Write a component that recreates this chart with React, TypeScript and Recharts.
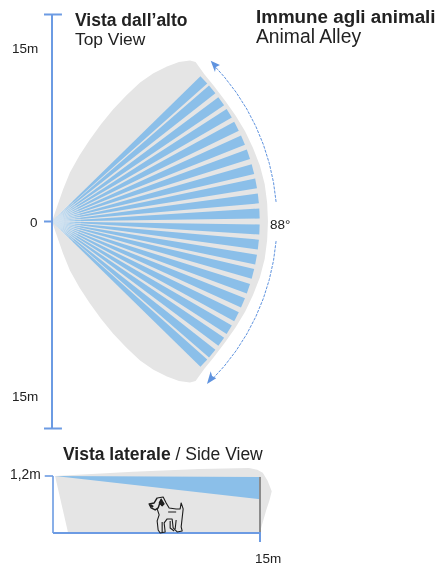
import React from "react";
import { ScatterChart, Scatter, XAxis, YAxis } from "recharts";

type Pt = { x: number; y: number };

// ---- Top view (metres from the sensor) ----
const beamAngles = [43, 39.5, 35.4, 31.4, 27.3, 23.1, 18.9, 14.6, 10.6, 6.4, 2.2, -2.2, -6.4, -10.6, -14.6, -18.9, -23.1, -27.3, -31.4, -35.4, -39.5, -43];
const beamRangeM = 15.05;
const beamHalfWidthDeg = 1.38;
const coneLeftEdge: Pt[] = [
  { x: 0, y: 0 }, { x: 0.22, y: 0.65 }, { x: 0.8, y: 2.32 }, { x: 1.3, y: 3.55 }, { x: 2.0, y: 4.8 }, { x: 2.75, y: 5.94 },
  { x: 3.55, y: 7.05 }, { x: 4.42, y: 8.12 }, { x: 5.4, y: 9.15 }, { x: 6.38, y: 10.07 }, { x: 7.35, y: 10.75 }, { x: 8.33, y: 11.23 }, { x: 9.2, y: 11.55 }, { x: 10.0, y: 11.67 },
];
const rimAngles = [48, 44, 40, 35, 30, 25, 20, 15, 10, 5, 0];
const rimRadii = [15.55, 15.35, 15.3, 15.3, 15.36, 15.45, 15.51, 15.6, 15.65, 15.65, 15.65];
const fadeAngles = [-46, -30, -15, 0, 15, 30, 46];
const fadeRadiiM = [0.9, 1.3, 1.7, 2.1];
const upperSweepAngles = [5, 10, 15, 20, 25, 30, 35, 40, 44];
const lowerSweepAngles = [-5, -10, -15, -20, -25, -30, -35, -40, -45];
const sweepRadiusM = 16.3;
const upperArrow: Pt[] = [{ x: 11.5, y: 11.65 }, { x: 11.81, y: 10.83 }, { x: 11.88, y: 11.2 }, { x: 12.17, y: 11.34 }];
const lowerArrow: Pt[] = [{ x: 11.23, y: -11.78 }, { x: 11.9, y: -11.35 }, { x: 11.6, y: -11.2 }, { x: 11.5, y: -10.85 }];
const topAxis: Pt[] = [{ x: 0, y: 15 }, { x: 0, y: -15 }];
const topTicksOuter: Pt[][] = [
  [{ x: -0.58, y: 15 }, { x: 0.72, y: 15 }],
  [{ x: -0.58, y: -15 }, { x: 0.72, y: -15 }],
  [{ x: -0.58, y: 0 }, { x: 0, y: 0 }],
];

// ---- Side view (x metres, y metres) ----
const sideCone: Pt[] = [
  { x: 0.15, y: 1.2 }, { x: 5.8, y: 1.29 }, { x: 10.6, y: 1.35 }, { x: 14.2, y: 1.37 }, { x: 14.8, y: 1.33 }, { x: 15.2, y: 1.27 }, { x: 15.55, y: 1.1 },
  { x: 15.85, y: 0.88 }, { x: 15.7, y: 0.7 }, { x: 15.45, y: 0.48 }, { x: 15.0, y: 0.02 }, { x: 1.08, y: 0.02 },
];
const sideBeam: Pt[] = [{ x: 0.15, y: 1.2 }, { x: 15, y: 1.18 }, { x: 15, y: 0.71 }];
const sideEdge: Pt[] = [{ x: 15, y: 1.18 }, { x: 15, y: 0 }];
const sideLeftAxis: Pt[] = [{ x: 0, y: 1.2 }, { x: 0, y: 0 }];
const sideBaseAxis: Pt[] = [{ x: 0, y: 0 }, { x: 15, y: 0 }, { x: 15, y: -0.19 }];
const sideTopTick: Pt[] = [{ x: -0.6, y: 1.2 }, { x: 0, y: 1.2 }];
const dogPosition: Pt[] = [{ x: 8.2, y: 0.38 }];

const polar = (deg: number, r: number): Pt => ({
  x: r * Math.cos((deg * Math.PI) / 180),
  y: r * Math.sin((deg * Math.PI) / 180),
});
const flip = (p: Pt): Pt => ({ x: p.x, y: -p.y });

const rim = rimAngles.map((a, i) => polar(a, rimRadii[i]));
const lowerOutline: Pt[] = [...rim.slice().reverse(), ...coneLeftEdge.slice().reverse()].map(flip);
const coneOutline: Pt[] = [...coneLeftEdge, ...rim, ...lowerOutline];
const beams: Pt[][] = beamAngles.map((a) => [
  { x: 0, y: 0 },
  polar(a + beamHalfWidthDeg, beamRangeM),
  polar(a - beamHalfWidthDeg, beamRangeM),
]);
const fades: Pt[][] = fadeRadiiM.map((r) => [{ x: 0, y: 0 }, ...fadeAngles.map((a) => polar(a, r))]);
const upperSweep = upperSweepAngles.map((a) => polar(a, sweepRadiusM));
const lowerSweep = lowerSweepAngles.map((a) => polar(a, sweepRadiusM));

const GRAY = "#E5E5E5";
const BEAM = "#8BBFE9";
const AXIS = "#6C9BE3";
const SWEEP = "#5F93DF";
const INK = "#222222";
const FONT = "Arial, 'Liberation Sans', sans-serif";

const area = (data: Pt[], fill: string, key: string) => (
  <Scatter key={key} data={data} isAnimationActive={false} shape={() => <g />} line={{ fill, stroke: "none" }} lineJointType="linear" />
);
const stroke = (data: Pt[], color: string, width: number, key: string, dash?: string) => (
  <Scatter key={key} data={data} isAnimationActive={false} shape={() => <g />} line={{ fill: "none", stroke: color, strokeWidth: width, strokeDasharray: dash }} lineJointType="linear" />
);

const axes = (xd: [number, number], yd: [number, number]) => [
  <XAxis key="x" type="number" dataKey="x" domain={xd} hide allowDataOverflow />,
  <YAxis key="y" type="number" dataKey="y" domain={yd} hide allowDataOverflow />,
];

const DOG = (props: any) => (
  <g transform={`translate(${props.cx},${props.cy})`} fill="none" stroke="#1c1c1c" strokeWidth={1.1} strokeLinejoin="round">
    <path d="M-9,-17 L-3,-18 L0,-12 L3,-7 L10,-6 L14,-6 L15,-12 L17,-6 L16,3 L15,12 L16,16 L11,17 L7,13 L6,4 L1,4 L-2,8 L-1,17 L-6,18 L-8,15 L-9,6 L-7,0 L-9,-6" />
    <path d="M-9,-17 L-12,-12 L-17,-11 L-15,-7 L-11,-5 L-8,-7 L-6,-13" strokeWidth={1.4} />
    <path d="M-5,-16 L-2,-11 L-4,-9 L-7,-12 Z" fill="#222" />
    <path d="M-16,-10 L-13,-8" strokeWidth={2.2} />
    <path d="M-4,7 L-4,17 M10,5 L9,14 M4,6 L4,13 L8,16 M2,-3 L10,-3" />
  </g>
);

const textBase = { fontFamily: FONT, fill: INK } as const;

export default function App() {
  return (
    <div style={{ position: "absolute", left: 0, top: 0, width: 442, height: 567, background: "#fff", filter: "blur(0.5px)" }}>
      <div style={{ position: "absolute", left: 0, top: 0 }}>
        <ScatterChart width={442} height={440} margin={{ top: 0, right: 0, bottom: 0, left: 0 }}>
          {axes([-3.768, 28.261], [-15.833, 16.05])}
          {area(coneOutline, GRAY, "cone")}
          {beams.map((b, i) => area(b, BEAM, `beam${i}`))}
          {fades.map((f, i) => area(f, "rgba(255,255,255,0.12)", `fade${i}`))}
          {stroke(upperSweep, SWEEP, 1, "sw1", "3 1.2")}
          {stroke(lowerSweep, SWEEP, 1, "sw2", "3 1.2")}
          {area(upperArrow, SWEEP, "ah1")}
          {area(lowerArrow, SWEEP, "ah2")}
          {stroke(topAxis, AXIS, 2, "axis")}
          {topTicksOuter.map((t, i) => stroke(t, AXIS, 2, `tick${i}`))}
          <text x={75} y={26} fontSize={17.5} fontWeight="bold" {...textBase}>Vista dall’alto</text>
          <text x={75} y={45} fontSize={17.4} {...textBase}>Top View</text>
          <text x={256} y={23} fontSize={18.8} fontWeight="bold" {...textBase}>Immune agli animali</text>
          <text x={256} y={43} fontSize={19.3} {...textBase}>Animal Alley</text>
          <text x={12} y={53} fontSize={13.5} {...textBase}>15m</text>
          <text x={30} y={227} fontSize={13.5} {...textBase}>0</text>
          <text x={12} y={401} fontSize={13.5} {...textBase}>15m</text>
          <text x={270} y={229} fontSize={13.5} {...textBase}>88°</text>
        </ScatterChart>
      </div>
      <div style={{ position: "absolute", left: 0, top: 440 }}>
        <ScatterChart width={442} height={127} margin={{ top: 0, right: 0, bottom: 0, left: 0 }}>
          {axes([-3.841, 28.19], [-0.716, 1.958])}
          {area(sideCone, GRAY, "sideCone")}
          {area(sideBeam, BEAM, "sideBeam")}
          {stroke(sideEdge, "#8C8C8C", 2, "sideEdge")}
          {stroke(sideLeftAxis, AXIS, 1.6, "sideLeft")}
          {stroke(sideBaseAxis, AXIS, 2, "sideBase")}
          {stroke(sideTopTick, AXIS, 1.6, "sideTick")}
          <Scatter data={dogPosition} isAnimationActive={false} shape={DOG} />
          <text x={63} y={20} fontSize={17.5} {...textBase}>
            <tspan fontWeight="bold">Vista laterale</tspan> / Side View
          </text>
          <text x={10} y={39} fontSize={13.8} {...textBase}>1,2m</text>
          <text x={255} y={123} fontSize={13.5} {...textBase}>15m</text>
        </ScatterChart>
      </div>
    </div>
  );
}
